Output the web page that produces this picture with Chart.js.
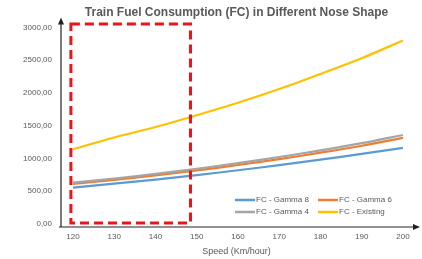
<!DOCTYPE html>
<html>
<head>
<meta charset="utf-8">
<script src="https://cdn.jsdelivr.net/npm/chart.js@4.4.1/dist/chart.umd.min.js"></script>
<style>
  html, body { margin: 0; padding: 0; background: #fff; }
  #wrap { width: 422px; height: 259px; }
</style>
</head>
<body>
<div id="wrap"><canvas id="fc"></canvas></div>
<script>
// ─── Data ────────────────────────────────────────────────────────────────
const speeds   = [120, 130, 140, 150, 160, 170, 180, 190, 200];
const gamma8   = [555, 615, 678, 746, 820, 898, 982, 1070, 1162];
const gamma6   = [610, 672, 741, 817, 900, 990, 1088, 1194, 1315];
const gamma4   = [630, 694, 765, 843, 929, 1022, 1123, 1233, 1358];
const existing = [1140, 1320, 1480, 1660, 1850, 2060, 2290, 2530, 2800];
const yTicks   = [0, 500, 1000, 1500, 2000, 2500, 3000];
// highlighted speed/FC range (red dashed box)
const boxSpeed = [119.5, 148.5];
const boxFC    = [0, 3050];

const TEXT = '#595959';
const FONT = "'Liberation Sans', Arial, sans-serif";

Chart.defaults.font.family = FONT;
Chart.defaults.color = TEXT;

const series = [
  { label: 'FC - Gamma 8',  data: gamma8,   color: '#5B9BD5', order: 4 },
  { label: 'FC - Gamma 6',  data: gamma6,   color: '#ED7D31', order: 3 },
  { label: 'FC - Gamma 4',  data: gamma4,   color: '#A5A5A5', order: 2 },
  { label: 'FC - Existing', data: existing, color: '#FFC000', order: 1 },
];

const fmt = v => v.toFixed(2).replace('.', ',');

// axis lines with arrowheads, red box, inside legend
const extras = {
  id: 'extras',
  afterDatasetsDraw(chart) {
    const { ctx, chartArea: a, scales: { x, y } } = chart;
    ctx.save();

    // red dashed box
    ctx.strokeStyle = '#E8161B';
    ctx.lineWidth = 3;
    ctx.setLineDash([9, 5]);
    const x0 = x.getPixelForValue(boxSpeed[0]), x1 = x.getPixelForValue(boxSpeed[1]);
    const y0 = y.getPixelForValue(boxFC[0]) - 1, y1 = y.getPixelForValue(boxFC[1]);
    ctx.strokeRect(x0, y1, x1 - x0, y0 - y1);
    ctx.setLineDash([]);

    // axes
    const by = a.bottom + 3;
    ctx.strokeStyle = '#222';
    ctx.fillStyle = '#222';
    ctx.lineWidth = 1.2;
    ctx.beginPath();
    ctx.moveTo(a.left, by); ctx.lineTo(a.left, a.top - 6);
    ctx.moveTo(a.left - 2, by); ctx.lineTo(a.right + 4, by);
    ctx.stroke();
    ctx.beginPath();
    ctx.moveTo(a.left, a.top - 10); ctx.lineTo(a.left - 3, a.top - 3); ctx.lineTo(a.left + 3, a.top - 3);
    ctx.fill();
    ctx.beginPath();
    ctx.moveTo(a.right + 8, by); ctx.lineTo(a.right + 1, by - 3); ctx.lineTo(a.right + 1, by + 3);
    ctx.fill();

    // legend (2 x 2, bottom right inside plot)
    ctx.font = '8px ' + FONT;
    ctx.textBaseline = 'middle';
    ctx.lineWidth = 2.5;
    const cols = [235, 318], rows = [200, 212];
    series.forEach((s, i) => {
      const lx = cols[i % 2], ly = rows[Math.floor(i / 2)];
      ctx.strokeStyle = s.color;
      ctx.beginPath(); ctx.moveTo(lx, ly); ctx.lineTo(lx + 20, ly); ctx.stroke();
      ctx.fillStyle = TEXT;
      ctx.fillText(s.label, lx + 21, ly);
    });
    ctx.restore();
  },
};

new Chart(document.getElementById('fc'), {
  type: 'line',
  data: {
    datasets: series.map(s => ({
      label: s.label,
      data: s.data.map((v, i) => ({ x: speeds[i], y: v })),
      borderColor: s.color,
      backgroundColor: s.color,
      borderWidth: 2.2,
      pointRadius: 0,
      tension: 0.3,
      order: s.order,
    })),
  },
  options: {
    responsive: true,
    maintainAspectRatio: false,
    animation: false,
    layout: { padding: { left: 10, right: 10, top: 0, bottom: 0 } },
    plugins: {
      legend: { display: false },
      tooltip: { enabled: false },
      title: {
        display: true,
        fullSize: false,
        text: 'Train Fuel Consumption (FC) in Different Nose Shape',
        color: TEXT,
        font: { size: 12, weight: 'bold' },
        padding: { top: 5, bottom: 8 },
      },
    },
    scales: {
      x: {
        type: 'linear',
        min: 117.1,
        max: 202.2,
        afterBuildTicks: s => { s.ticks = speeds.map(v => ({ value: v })); },
        afterFit: s => { s.height = 35; },
        grid: { display: false, drawTicks: false },
        border: { display: false },
        ticks: { font: { size: 8 }, padding: 8, maxRotation: 0 },
        title: { display: true, text: 'Speed (Km/hour)', font: { size: 9 }, padding: { top: 0, bottom: 2 } },
      },
      y: {
        min: 0,
        max: 3000,
        afterBuildTicks: s => { s.ticks = yTicks.map(v => ({ value: v })); },
        afterFit: s => { s.width = 51; },
        grid: { display: false, drawTicks: false },
        border: { display: false },
        ticks: { font: { size: 8 }, padding: 9, callback: v => fmt(v) },
      },
    },
  },
  plugins: [extras],
});
</script>
</body>
</html>
